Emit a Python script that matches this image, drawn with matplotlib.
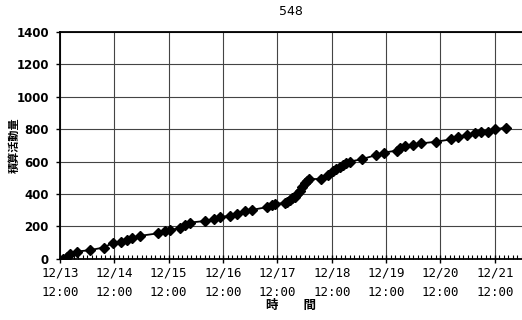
import matplotlib
matplotlib.use("Agg")
import matplotlib.pyplot as plt
import matplotlib.dates as mdates
from datetime import datetime, timedelta

title = "548"
ylabel = "積算活動量"
xlabel = "時　　間"
start = datetime(2000, 12, 13, 12, 0)
end = datetime(2000, 12, 22, 0, 0)

# hours since 12/13 12:00
hours = [1.4, 2.9, 4.3, 7.4, 13.2, 19.2, 23.5, 27.1, 29.5, 31.7, 35.3, 43.4, 46.3, 48.5,
         53.0, 55.2, 57.4, 64.1, 68.2, 70.6, 75.1, 78.0, 81.6, 84.7, 91.2, 93.4, 94.8,
         99.4, 100.3, 101.5, 102.6, 103.7, 104.6, 105.8, 106.8, 108.0, 109.0, 110.0,
         115.2, 118.3, 120.5, 122.0, 123.6, 125.0, 126.3, 127.9, 133.2, 139.7, 143.0,
         148.6, 150.0, 152.2, 155.8, 159.6, 166.1, 172.8, 175.7, 179.5, 183.1, 186.0,
         188.9, 192.2, 196.8]
values = [0, 10, 29, 45, 54, 70, 100, 107, 117, 127, 142, 158, 173, 179,
          189, 210, 224, 234, 247, 257, 267, 277, 296, 302, 319, 333, 341,
          343, 350, 364, 373, 384, 400, 421, 442, 467, 482, 493,
          493, 518, 543, 555, 569, 582, 590, 600, 615, 641, 656,
          668, 683, 699, 703, 713, 723, 738, 754, 765, 775, 781,
          785, 800, 810]

times = [start + timedelta(hours=h) for h in hours]

fig = plt.figure(figsize=(5.22, 3.2), dpi=100)
ax = fig.add_axes([0.115, 0.191, 0.885, 0.709])

ax.plot(times, values, color="black", lw=1.3, marker="D", ms=5,
        markerfacecolor="black", markeredgecolor="black")

ax.set_xlim(start, end)
ax.set_ylim(0, 1400)
ax.set_yticks(range(0, 1401, 200))
ax.xaxis.set_major_locator(mdates.HourLocator(byhour=[12]))
ax.xaxis.set_major_formatter(mdates.DateFormatter("%m/%d\n%H:%M"))
ax.xaxis.set_minor_locator(mdates.HourLocator(byhour=range(0, 24, 2)))

ax.grid(True, which="major", color="#444444", lw=0.8)
ax.tick_params(axis="x", which="minor", direction="in", length=3, width=0.8, colors="black")
ax.tick_params(axis="x", which="major", direction="inout", length=6, width=1.0, pad=2.5)
ax.tick_params(axis="y", which="major", direction="out", length=3, width=1.0, pad=5)

for lab in ax.get_xticklabels():
    lab.set_family("DejaVu Sans Mono")
    lab.set_fontsize(9)
    lab.set_linespacing(1.6)
for lab in ax.get_yticklabels():
    lab.set_fontsize(8.5)
    lab.set_fontweight("bold")

for s in ["left", "top", "bottom"]:
    ax.spines[s].set_linewidth(1.3)
ax.spines["right"].set_visible(False)

ax.set_title(title, fontsize=9, pad=12)
fig.text(14 / 522, 1 - 145 / 320, ylabel, rotation=90, ha="center", va="center",
         family=["Noto Sans CJK JP", "DejaVu Sans"], fontsize=8, fontweight="bold")
ax.set_xlabel(xlabel, family=["Noto Sans CJK JP", "DejaVu Sans"], fontsize=9,
              fontweight="bold", labelpad=0)

fig.savefig("out.png", dpi=100)
